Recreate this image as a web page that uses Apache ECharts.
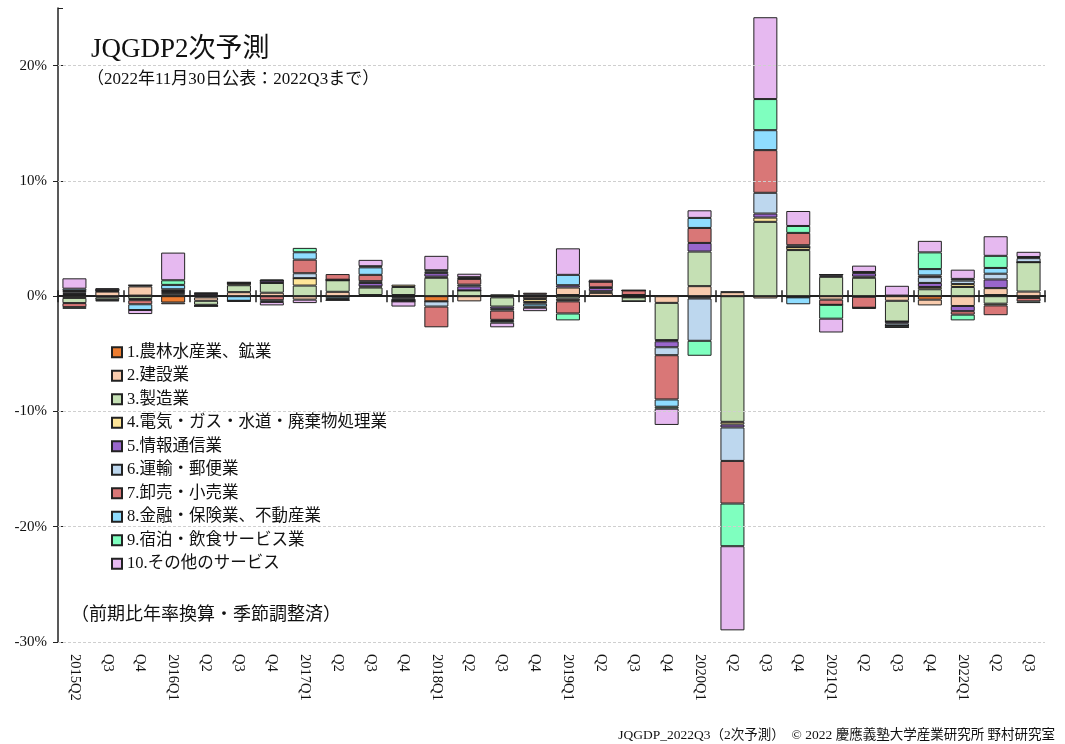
<!DOCTYPE html>
<html>
<head>
<meta charset="utf-8">
<script src="https://cdn.jsdelivr.net/npm/echarts@6/dist/echarts.min.js"></script>
<style>
  html, body { margin: 0; padding: 0; background: #fff; }
  #chart { width: 1065px; height: 744px; }
</style>
</head>
<body>
<div id="chart"></div>
<script>
// quarters 2015Q2 .. 2022Q3
var quarters = ['2015Q2','Q3','Q4','2016Q1','Q2','Q3','Q4','2017Q1','Q2','Q3','Q4',
  '2018Q1','Q2','Q3','Q4','2019Q1','Q2','Q3','Q4','2020Q1','Q2','Q3','Q4',
  '2021Q1','Q2','Q3','Q4','2022Q1','Q2','Q3'];

var yTicks = [-30, -20, -10, 10, 20];

// contribution by industry (%)
var agri = [0.1,-0.1,0.05,-0.55,-0.1,0,0,0,-0.05,-0.05,-0.1,-0.45,0,0.05,-0.05,0.1,0,-0.1,0,-0.1,0,0,-0.1,0,-0.05,0.05,-0.3,0,0.1,-0.15];
var constr = [-0.15,0.4,0.8,-0.15,-0.3,0.35,0.3,-0.3,0.38,0.1,0.1,0,-0.45,-0.1,-0.2,0.65,0.29,0,-0.58,0.87,0.35,-0.2,0,-0.3,0,-0.4,-0.5,-0.85,0.6,0.4];
var manuf = [-0.45,-0.2,-0.25,0.15,-0.35,0.6,0.85,0.92,1.0,0.65,0.7,1.6,0.5,-0.8,0.05,-0.2,-0.05,-0.35,-3.23,3.0,-10.9,6.45,4.0,1.68,1.6,-1.8,0.6,0.8,-0.65,2.55];
var util = [0.1,0.05,-0.1,0.1,0.05,0.15,0,0.64,0,0.1,0.2,0.1,0,0.1,-0.25,-0.15,0.14,0,-0.1,-0.1,-0.23,0.37,0.25,0.1,0.1,0,0.2,0.25,-0.15,0];
var info = [0.1,0.05,0.1,0.1,0.15,0,0.2,0,0.05,0.3,-0.1,0.3,0.35,-0.2,0.1,0.2,0.29,0.1,-0.52,0.75,-0.26,0.35,0,0.1,0.3,-0.15,0.35,-0.45,0.75,0];
var trans = [0.15,0.05,0,0.1,0.05,0.1,0,0.43,0,0.15,-0.15,-0.45,0.15,-0.15,-0.15,-0.1,0.05,0,-0.69,-3.67,-2.9,1.8,0.17,0,0.1,-0.2,0.5,0.3,0.5,0.35];
var retail = [-0.35,0,-0.35,0.15,-0.1,0,-0.35,1.18,0.49,0.55,0,-1.8,0.5,-0.8,0.15,-1.05,0.49,0.4,-3.84,1.3,-3.7,3.7,1.07,-0.45,-0.95,0,0.15,-0.3,-0.85,-0.3];
var finance = [0.2,-0.05,-0.5,0.38,0,-0.4,-0.15,0.64,-0.2,0.65,-0.1,0.15,0.05,-0.1,-0.25,0.9,0,0,-0.63,0.87,0.05,1.73,-0.6,0,0,-0.15,0.55,0.15,0.5,0.1];
var hotel = [-0.15,-0.1,0,0.4,0,0,0.1,0.38,-0.1,0.1,0,0.1,0.1,-0.15,-0.1,-0.6,0,0,-0.17,-1.3,-3.7,2.7,0.6,-1.2,-0.1,0,1.45,-0.5,1.05,-0.15];
var other = [0.9,0.15,-0.35,2.4,0.05,-0.1,-0.3,-0.3,0,0.55,-0.45,1.25,0.3,-0.4,-0.3,2.3,0.17,0,-1.41,0.66,-7.3,7.1,1.3,-1.2,0.55,0.85,1.0,0.8,1.7,0.45];

var seriesNames = ['1.農林水産業、鉱業','2.建設業','3.製造業','4.電気・ガス・水道・廃棄物処理業',
  '5.情報通信業','6.運輸・郵便業','7.卸売・小売業','8.金融・保険業、不動産業',
  '9.宿泊・飲食サービス業','10.その他のサービス'];
var seriesData = [agri, constr, manuf, util, info, trans, retail, finance, hotel, other];
var colors = ['#ED7D31','#F8CBAD','#C5E0B4','#FFE699','#9966CC','#BDD7EE','#D97777','#8FDDFF','#7FFFBF','#E6B9F0'];

var serif = '"Liberation Serif", "Noto Sans CJK JP", serif';

var chart = echarts.init(document.getElementById('chart'));

var series = seriesData.map(function (d, i) {
  return {
    name: seriesNames[i],
    type: 'bar',
    stack: 'total',
    barWidth: 24,
    data: d,
    itemStyle: { color: colors[i], borderColor: '#222', borderWidth: 1 }
  };
});
// grid lines
series[0].markLine = {
  silent: true,
  symbol: 'none',
  label: { show: false },
  lineStyle: { color: '#cfcfcf', type: [3, 2], width: 1 },
  data: yTicks.map(function (v) { return { yAxis: v }; })
};

chart.setOption({
  animation: false,
  color: colors,
  title: [{
    text: 'JQGDP2次予測',
    left: 86, top: 31,
    textStyle: { fontFamily: serif, fontSize: 27, fontWeight: 'normal', color: '#111' }
  }, {
    text: '（2022年11月30日公表：2022Q3まで）',
    left: 82, top: 66,
    textStyle: { fontFamily: serif, fontSize: 17, fontWeight: 'normal', color: '#111' }
  }, {
    text: '（前期比年率換算・季節調整済）',
    left: 66, top: 601,
    textStyle: { fontFamily: serif, fontSize: 18, fontWeight: 'normal', color: '#111' }
  }, {
    text: 'JQGDP_2022Q3（2次予測）　© 2022 慶應義塾大学産業研究所 野村研究室',
    right: 5, top: 724,
    textStyle: { fontFamily: serif, fontSize: 13.5, fontWeight: 'normal', color: '#111' }
  }],
  legend: {
    orient: 'vertical',
    left: 106, top: 339,
    itemWidth: 10, itemHeight: 10,
    itemGap: 7,
    icon: 'rect',
    textStyle: { fontFamily: serif, fontSize: 16.5, color: '#111' },
    data: seriesNames
  },
  grid: { left: 58, right: 20, top: 8, bottom: 102 },
  xAxis: [{
    type: 'category',
    data: quarters,
    position: 'bottom',
    axisLine: { show: false, onZero: false },
    axisTick: { show: false },
    axisLabel: {
      rotate: -90, interval: 0, margin: 12,
      fontFamily: serif, fontSize: 14.5, color: '#111'
    }
  }, {
    type: 'category',
    data: quarters,
    position: 'bottom',
    axisLine: { onZero: true, onZeroAxisIndex: 0, lineStyle: { color: '#222', width: 2 } },
    axisTick: { show: true, inside: true, length: 6, lineStyle: { color: '#222', width: 1.5 } },
    axisLabel: { show: false }
  }, {
    type: 'category',
    data: quarters,
    position: 'bottom',
    axisLine: { onZero: true, onZeroAxisIndex: 1, lineStyle: { color: '#222', width: 2 } },
    axisTick: { show: true, inside: false, length: 6, lineStyle: { color: '#222', width: 1.5 } },
    axisLabel: { show: false }
  }],
  yAxis: [{
    type: 'value',
    min: -30, max: 25, interval: 10,
    axisLine: { show: true, onZero: false, lineStyle: { color: '#222', width: 1.5 } },
    axisTick: { show: true, length: 5, lineStyle: { color: '#222' } },
    splitLine: { show: false },
    axisLabel: {
      showMaxLabel: false, margin: 11,
      fontFamily: serif, fontSize: 15, color: '#111',
      formatter: '{value}%'
    }
  }, {
    type: 'value',
    min: -30, max: 25, interval: 10,
    position: 'left',
    axisLine: { show: false, onZero: false },
    axisTick: { show: true, inside: true, length: 5, lineStyle: { color: '#222' } },
    axisLabel: { show: false },
    splitLine: { show: false }
  }],
  series: series
});
</script>
</body>
</html>
